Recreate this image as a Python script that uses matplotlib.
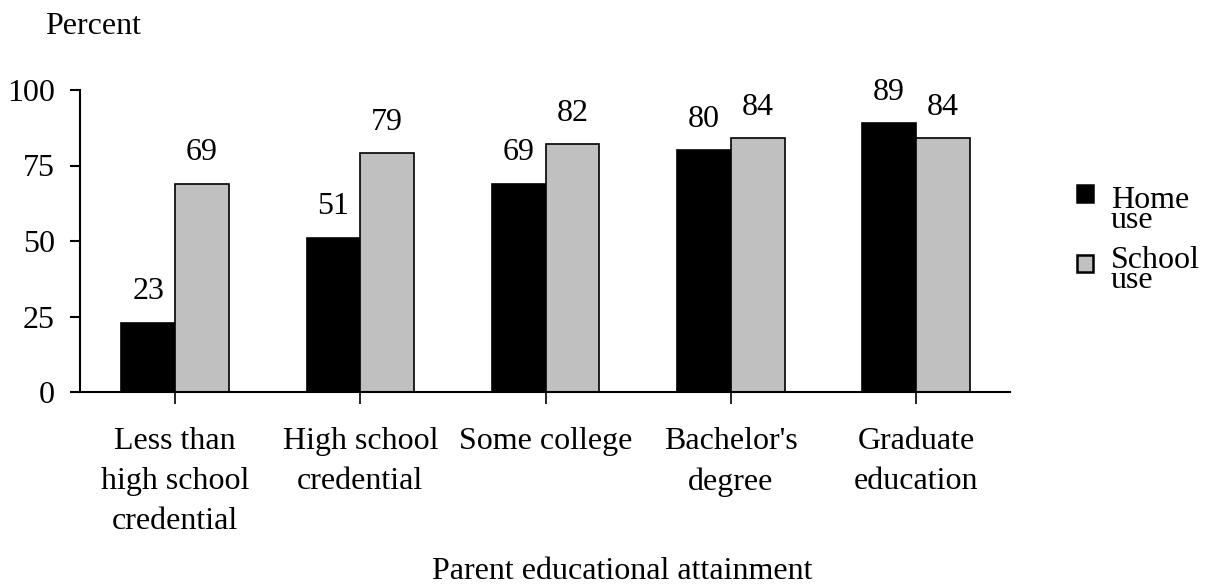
import numpy as np
import matplotlib.pyplot as plt
from matplotlib.patches import Rectangle

categories = ["Less than\nhigh school\ncredential", "High school\ncredential",
              "Some college", "Bachelor's\ndegree", "Graduate\neducation"]
home_use = [23, 51, 69, 80, 89]
school_use = [69, 79, 82, 84, 84]
series_labels = [("Home", "use"), ("School", "use")]
yticks = [0, 25, 50, 75, 100]

HOME_COLOR = "black"
SCHOOL_COLOR = "#c0c0c0"
FS = 23

plt.rcParams['font.family'] = ['Liberation Serif', 'DejaVu Serif']

W, H = 1209, 584
fig = plt.figure(figsize=(W / 100, H / 100), dpi=100)
ax = fig.add_axes([80 / W, 1 - 392 / H, (1010 - 80) / W, (392 - 90) / H])

x = np.arange(len(categories))
w = 0.29
ax.bar(x, home_use, width=-w, align='edge', color=HOME_COLOR, edgecolor='black', linewidth=1.2)
ax.bar(x, school_use, width=w, align='edge', color=SCHOOL_COLOR, edgecolor='black', linewidth=1.2)

for xi, v in zip(x, home_use):
    ax.annotate(str(v), (xi - w / 2, v), xytext=(0, 17), textcoords='offset points',
                ha='center', va='baseline', fontsize=FS)
for xi, v in zip(x, school_use):
    ax.annotate(str(v), (xi + w / 2, v), xytext=(0, 17), textcoords='offset points',
                ha='center', va='baseline', fontsize=FS)

ax.set_xlim(-0.513, 4.507)
ax.set_ylim(0, 100)
ax.set_yticks(yticks)
ax.set_xticks(x)
ax.set_xticklabels(categories, fontsize=FS, linespacing=1.5)
ax.tick_params(axis='y', labelsize=FS, length=7, width=1.5, pad=11)
ax.tick_params(axis='x', length=8.5, width=1.2, pad=17)

for s in ['top', 'right']:
    ax.spines[s].set_visible(False)
ax.spines['left'].set_linewidth(1.5)
ax.spines['bottom'].set_linewidth(1.5)

fig.text(45 / W, 1 - 34 / H, "Percent", fontsize=FS, ha='left', va='baseline')
fig.text(622 / W, 1 - 579 / H, "Parent educational attainment", fontsize=FS,
         ha='center', va='baseline')

# legend drawn by hand: square beside first word, second word tucked underneath
for i, (word1, word2) in enumerate(series_labels):
    col = [HOME_COLOR, SCHOOL_COLOR][i]
    top = 185 + i * 70
    fig.patches.append(Rectangle((1077 / W, 1 - (top + 17) / H), 16 / W, 17 / H,
                                 transform=fig.transFigure, facecolor=col,
                                 edgecolor='black', linewidth=1.8))
    base = 208 + i * 60
    fig.text(1111 / W, 1 - base / H, word1, fontsize=FS, ha='left', va='baseline')
    fig.text(1111 / W, 1 - (base + 20) / H, word2, fontsize=FS, ha='left', va='baseline')

fig.savefig("out.png", dpi=100)
